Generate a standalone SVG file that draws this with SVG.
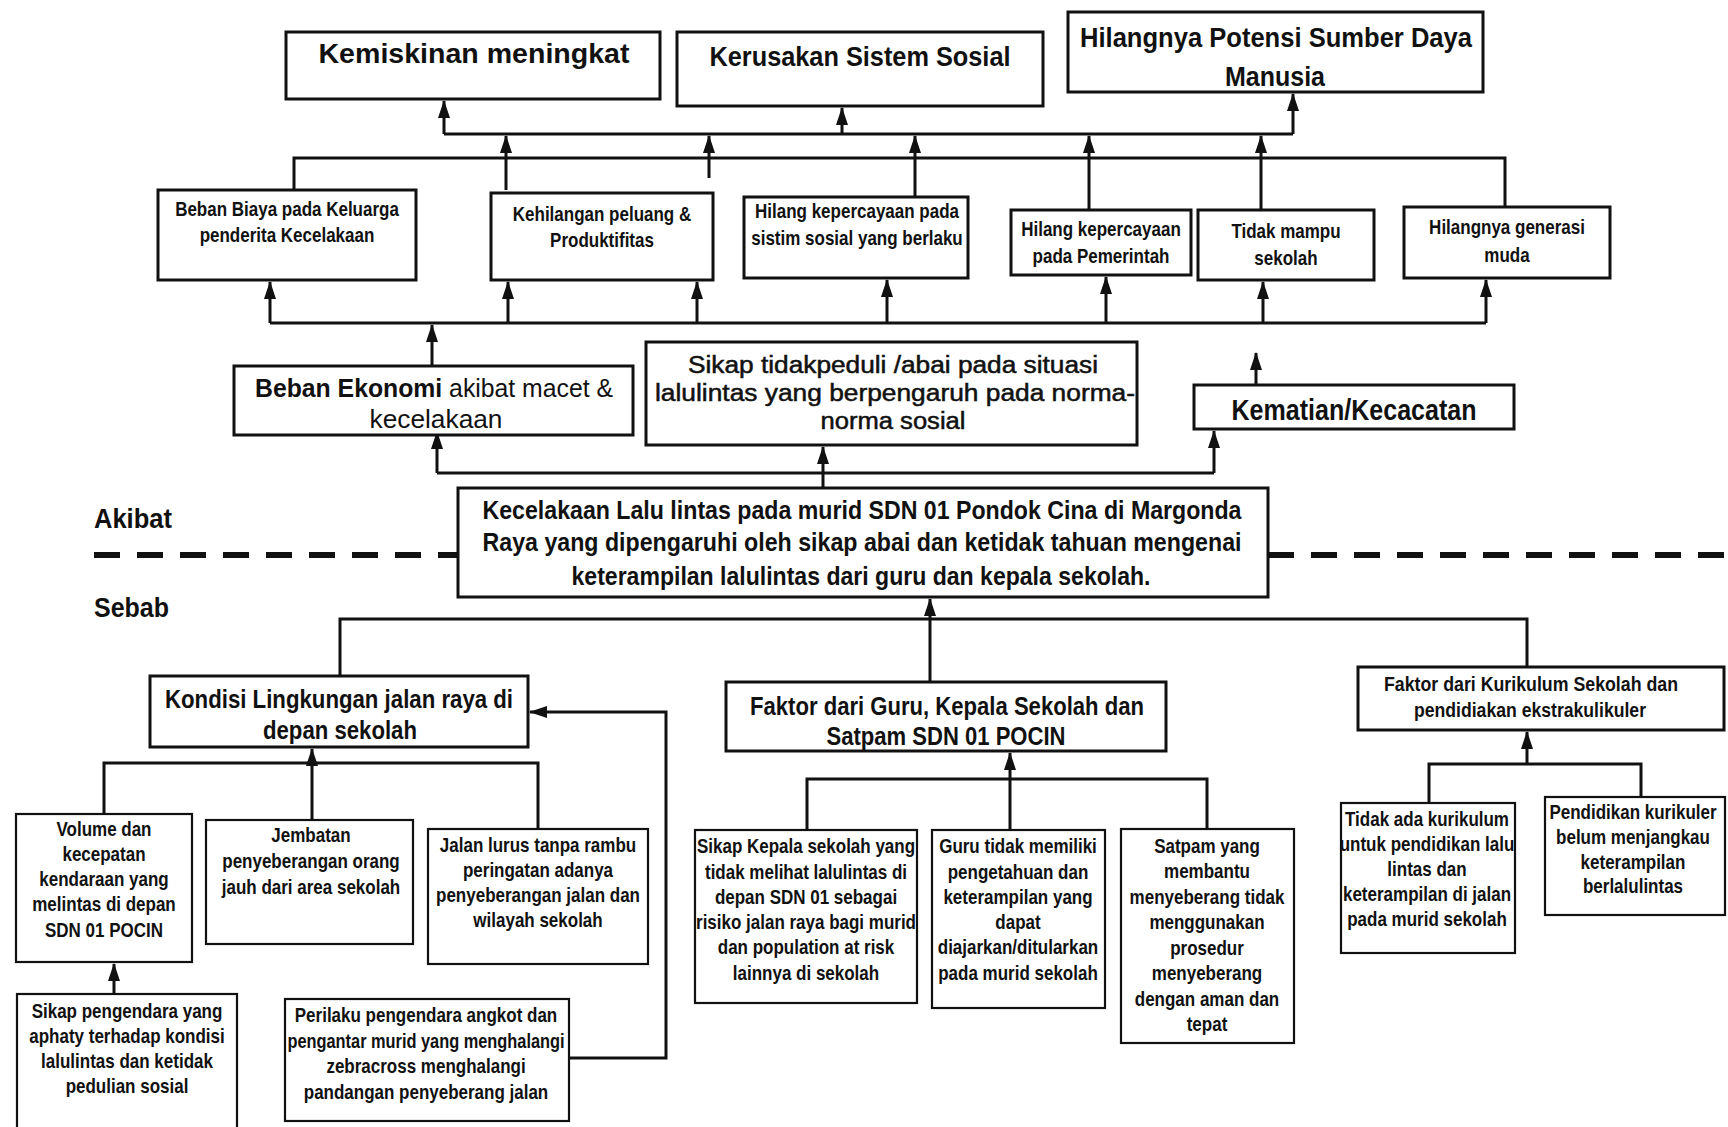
<svg xmlns="http://www.w3.org/2000/svg" width="1728" height="1127" viewBox="0 0 1728 1127">
<style>
text{font-family:"Liberation Sans",Arial,sans-serif;font-weight:bold;fill:#111;text-anchor:middle}
.b rect{fill:#fff;stroke:#111;stroke-width:3}
.s rect{fill:#fff;stroke:#111;stroke-width:2.2}
.t1{font-size:27px}
.t2{font-size:20px}
.t3{font-size:26px}
.t4{font-size:20px}
.sans{font-weight:normal;font-size:23px;stroke:#111;stroke-width:0.5}
.lbl{font-size:28px;text-anchor:start}
#conn path{fill:none;stroke:#111;stroke-width:3}
</style>
<defs>
<marker id="ah" markerWidth="18" markerHeight="12" refX="17" refY="6" orient="auto" markerUnits="userSpaceOnUse" viewBox="0 0 18 12"><path d="M0,0 L18,6 L0,12 z" fill="#111"/></marker>
</defs>
<rect width="1728" height="1127" fill="#fff"/>

<g id="conn">
<path d="M444,134 H1293"/>
<path d="M444,134 V101" marker-end="url(#ah)"/>
<path d="M842,134 V108" marker-end="url(#ah)"/>
<path d="M1293,134 V94" marker-end="url(#ah)"/>
<path d="M506,190 V136" marker-end="url(#ah)"/>
<path d="M709,178 V136" marker-end="url(#ah)"/>
<path d="M915,198 V136" marker-end="url(#ah)"/>
<path d="M1089,210 V136" marker-end="url(#ah)"/>
<path d="M1261,211 V136" marker-end="url(#ah)"/>
<path d="M294,200 V158 H1505 V207"/>
<path d="M270,323 H1486"/>
<path d="M270,323 V282" marker-end="url(#ah)"/>
<path d="M508,323 V282" marker-end="url(#ah)"/>
<path d="M697,323 V282" marker-end="url(#ah)"/>
<path d="M887,323 V280" marker-end="url(#ah)"/>
<path d="M1106,323 V277" marker-end="url(#ah)"/>
<path d="M1263,323 V282" marker-end="url(#ah)"/>
<path d="M1486,323 V280" marker-end="url(#ah)"/>
<path d="M432,367 V325" marker-end="url(#ah)"/>
<path d="M1256,386 V353" marker-end="url(#ah)"/>
<path d="M437,473 H1214"/>
<path d="M437,473 V432" marker-end="url(#ah)"/>
<path d="M1214,473 V431" marker-end="url(#ah)"/>
<path d="M823,488 V447" marker-end="url(#ah)"/>
<path d="M94,555 H458 M1268,555 H1728" style="stroke-width:6;stroke-dasharray:26 17"/>
<path d="M340,676 V619 H1527 V667"/>
<path d="M930,683 V599" marker-end="url(#ah)"/>
<path d="M569,1058 H666 V712 H530" marker-end="url(#ah)"/>
<path d="M104,814 V763 H538 V829"/>
<path d="M312,820 V749" marker-end="url(#ah)"/>
<path d="M114,994 V964" marker-end="url(#ah)"/>
<path d="M807,830 V779 H1207 V829"/>
<path d="M1010,830 V753" marker-end="url(#ah)"/>
<path d="M1429,803 V764 H1641 V797"/>
<path d="M1527,764 V732" marker-end="url(#ah)"/>
</g>

<g id="n-kemiskinan" class="b"><rect x="286" y="32" width="374" height="67"/><text class="t1" x="474" y="63" textLength="311" lengthAdjust="spacingAndGlyphs">Kemiskinan meningkat</text></g>
<g id="n-kerusakan" class="b"><rect x="677" y="32" width="366" height="74"/><text class="t1" x="860" y="66" textLength="301" lengthAdjust="spacingAndGlyphs">Kerusakan Sistem Sosial</text></g>
<g id="n-hilangnya-potensi" class="b"><rect x="1068" y="12" width="415" height="80"/><text class="t1" x="1276" y="47" textLength="392" lengthAdjust="spacingAndGlyphs">Hilangnya Potensi Sumber Daya</text><text class="t1" x="1275" y="86" textLength="100" lengthAdjust="spacingAndGlyphs">Manusia</text></g>

<g id="n-beban-biaya" class="b"><rect x="158" y="190" width="258" height="90"/><g transform="translate(287,0) scale(0.85,1)"><text class="t2" x="0" y="216">Beban Biaya pada Keluarga</text><text class="t2" x="0" y="242">penderita Kecelakaan</text></g></g>
<g id="n-kehilangan" class="b"><rect x="491" y="193" width="222" height="87"/><g transform="translate(602,0) scale(0.85,1)"><text class="t2" x="0" y="221">Kehilangan peluang &amp;</text><text class="t2" x="0" y="247">Produktifitas</text></g></g>
<g id="n-hilang-sistim" class="b"><rect x="744" y="197" width="224" height="81"/><g transform="translate(857,0) scale(0.85,1)"><text class="t2" x="0" y="218">Hilang kepercayaan pada</text><text class="t2" x="0" y="245">sistim sosial yang berlaku</text></g></g>
<g id="n-hilang-pemerintah" class="b"><rect x="1011" y="210" width="180" height="65"/><g transform="translate(1101,0) scale(0.85,1)"><text class="t2" x="0" y="236">Hilang kepercayaan</text><text class="t2" x="0" y="263">pada Pemerintah</text></g></g>
<g id="n-tidak-mampu" class="b"><rect x="1198" y="210" width="176" height="70"/><g transform="translate(1286,0) scale(0.85,1)"><text class="t2" x="0" y="238">Tidak mampu</text><text class="t2" x="0" y="265">sekolah</text></g></g>
<g id="n-generasi" class="b"><rect x="1404" y="207" width="206" height="71"/><g transform="translate(1507,0) scale(0.85,1)"><text class="t2" x="0" y="234">Hilangnya generasi</text><text class="t2" x="0" y="262">muda</text></g></g>

<g id="n-beban-ekonomi" class="b"><rect x="234" y="366" width="399" height="69"/><text class="t3" x="434" y="397" textLength="358" lengthAdjust="spacingAndGlyphs">Beban  Ekonomi <tspan style="font-weight:normal">akibat macet &amp;</tspan></text><text class="t3" x="436" y="428" style="font-weight:normal" textLength="133" lengthAdjust="spacingAndGlyphs">kecelakaan</text></g>
<g id="n-sikap-tidakpeduli" class="b"><rect x="646" y="342" width="491" height="103"/><text class="sans" x="893" y="373" textLength="410" lengthAdjust="spacingAndGlyphs">Sikap tidakpeduli /abai pada situasi</text><text class="sans" x="895" y="401" textLength="480" lengthAdjust="spacingAndGlyphs">lalulintas yang berpengaruh pada norma-</text><text class="sans" x="893" y="429" textLength="145" lengthAdjust="spacingAndGlyphs">norma sosial</text></g>
<g id="n-kematian" class="b"><rect x="1194" y="385" width="320" height="44"/><text class="t1" x="1354" y="420" style="font-size:29px" textLength="245" lengthAdjust="spacingAndGlyphs">Kematian/Kecacatan</text></g>

<g id="n-main" class="b"><rect x="458" y="488" width="810" height="109"/><text class="t3" x="862" y="519" textLength="759" lengthAdjust="spacingAndGlyphs">Kecelakaan Lalu lintas pada murid SDN 01 Pondok Cina di Margonda</text><text class="t3" x="862" y="551" textLength="759" lengthAdjust="spacingAndGlyphs">Raya yang dipengaruhi oleh sikap abai dan ketidak tahuan mengenai</text><text class="t3" x="861" y="585" textLength="579" lengthAdjust="spacingAndGlyphs">keterampilan lalulintas dari guru dan kepala sekolah.</text></g>

<g id="lbl-akibat"><text class="lbl" x="94" y="528" textLength="78" lengthAdjust="spacingAndGlyphs">Akibat</text></g>
<g id="lbl-sebab"><text class="lbl" x="94" y="617" textLength="75" lengthAdjust="spacingAndGlyphs">Sebab</text></g>

<g id="n-kondisi" class="b"><rect x="150" y="676" width="378" height="71"/><text class="t3" x="339" y="708" textLength="348" lengthAdjust="spacingAndGlyphs">Kondisi Lingkungan jalan raya di</text><text class="t3" x="340" y="739" textLength="154" lengthAdjust="spacingAndGlyphs">depan sekolah</text></g>
<g id="n-faktor-guru" class="b"><rect x="726" y="682" width="440" height="69"/><text class="t3" x="947" y="715" style="font-size:25px" textLength="394" lengthAdjust="spacingAndGlyphs">Faktor dari Guru, Kepala Sekolah dan</text><text class="t3" x="946" y="745" style="font-size:25px" textLength="239" lengthAdjust="spacingAndGlyphs">Satpam SDN 01 POCIN</text></g>
<g id="n-faktor-kurikulum" class="b"><rect x="1358" y="667" width="366" height="63"/><text class="t2" x="1531" y="691" textLength="294" lengthAdjust="spacingAndGlyphs">Faktor dari Kurikulum Sekolah dan</text><text class="t2" x="1530" y="717" textLength="232" lengthAdjust="spacingAndGlyphs">pendidiakan ekstrakulikuler</text></g>

<g id="n-volume" class="s"><rect x="16" y="814" width="176" height="148"/><g transform="translate(104,0) scale(0.85,1)"><text class="t4" x="0" y="836">Volume dan</text><text class="t4" x="0" y="861">kecepatan</text><text class="t4" x="0" y="886">kendaraan yang</text><text class="t4" x="0" y="911">melintas di depan</text><text class="t4" x="0" y="937">SDN 01 POCIN</text></g></g>
<g id="n-jembatan" class="s"><rect x="206" y="820" width="207" height="124"/><g transform="translate(311,0) scale(0.85,1)"><text class="t4" x="0" y="842">Jembatan</text><text class="t4" x="0" y="868">penyeberangan orang</text><text class="t4" x="0" y="894">jauh dari area sekolah</text></g></g>
<g id="n-jalan-lurus" class="s"><rect x="428" y="829" width="220" height="135"/><g transform="translate(538,0) scale(0.85,1)"><text class="t4" x="0" y="852">Jalan lurus tanpa rambu</text><text class="t4" x="0" y="877">peringatan adanya</text><text class="t4" x="0" y="902">penyeberangan jalan dan</text><text class="t4" x="0" y="927">wilayah sekolah</text></g></g>
<g id="n-sikap-pengendara" class="s"><rect x="17" y="994" width="220" height="140"/><g transform="translate(127,0) scale(0.85,1)"><text class="t4" x="0" y="1018">Sikap pengendara yang</text><text class="t4" x="0" y="1043">aphaty terhadap kondisi</text><text class="t4" x="0" y="1068">lalulintas dan ketidak</text><text class="t4" x="0" y="1093">pedulian sosial</text></g></g>
<g id="n-perilaku" class="s"><rect x="285" y="999" width="284" height="122"/><g transform="translate(426,0) scale(0.85,1)"><text class="t4" x="0" y="1022">Perilaku pengendara angkot dan</text><text class="t4" x="0" y="1048" textLength="326" lengthAdjust="spacingAndGlyphs">pengantar murid yang menghalangi</text><text class="t4" x="0" y="1073">zebracross menghalangi</text><text class="t4" x="0" y="1099">pandangan penyeberang jalan</text></g></g>

<g id="n-sikap-kepala" class="s"><rect x="695" y="830" width="222" height="173"/><g transform="translate(806,0) scale(0.85,1)"><text class="t4" x="0" y="853">Sikap Kepala sekolah yang</text><text class="t4" x="0" y="879">tidak melihat lalulintas di</text><text class="t4" x="0" y="904">depan SDN 01 sebagai</text><text class="t4" x="0" y="929">risiko jalan raya bagi murid</text><text class="t4" x="0" y="954">dan population at risk</text><text class="t4" x="0" y="980">lainnya di sekolah</text></g></g>
<g id="n-guru" class="s"><rect x="932" y="830" width="173" height="178"/><g transform="translate(1018,0) scale(0.85,1)"><text class="t4" x="0" y="853">Guru tidak memiliki</text><text class="t4" x="0" y="879">pengetahuan dan</text><text class="t4" x="0" y="904">keterampilan yang</text><text class="t4" x="0" y="929">dapat</text><text class="t4" x="0" y="954">diajarkan/ditularkan</text><text class="t4" x="0" y="980">pada murid sekolah</text></g></g>
<g id="n-satpam" class="s"><rect x="1121" y="829" width="173" height="214"/><g transform="translate(1207,0) scale(0.85,1)"><text class="t4" x="0" y="853">Satpam yang</text><text class="t4" x="0" y="878">membantu</text><text class="t4" x="0" y="904">menyeberang tidak</text><text class="t4" x="0" y="929">menggunakan</text><text class="t4" x="0" y="955">prosedur</text><text class="t4" x="0" y="980">menyeberang</text><text class="t4" x="0" y="1006">dengan aman dan</text><text class="t4" x="0" y="1031">tepat</text></g></g>

<g id="n-tidak-ada" class="s"><rect x="1341" y="803" width="174" height="150"/><g transform="translate(1427,0) scale(0.85,1)"><text class="t4" x="0" y="826">Tidak ada kurikulum</text><text class="t4" x="0" y="851">untuk pendidikan lalu</text><text class="t4" x="0" y="876">lintas dan</text><text class="t4" x="0" y="901">keterampilan di jalan</text><text class="t4" x="0" y="926">pada murid sekolah</text></g></g>
<g id="n-pendidikan" class="s"><rect x="1545" y="797" width="180" height="118"/><g transform="translate(1633,0) scale(0.85,1)"><text class="t4" x="0" y="819">Pendidikan kurikuler</text><text class="t4" x="0" y="844">belum menjangkau</text><text class="t4" x="0" y="869">keterampilan</text><text class="t4" x="0" y="893">berlalulintas</text></g></g>
</svg>
